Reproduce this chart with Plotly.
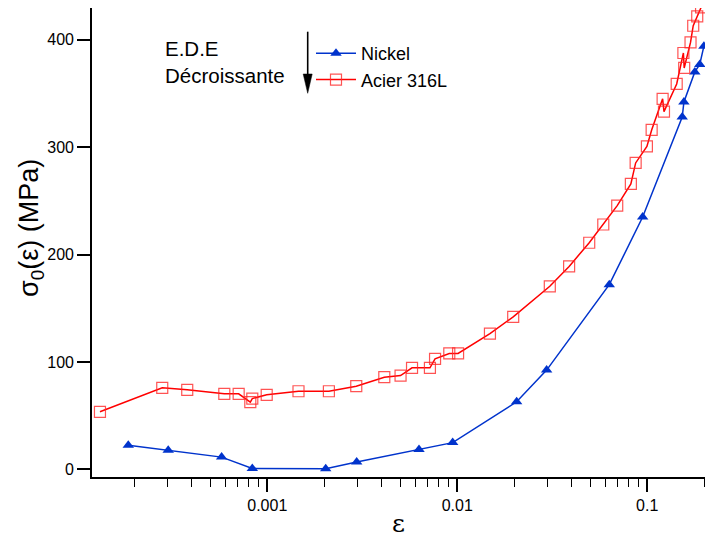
import plotly.graph_objects as go
import math

# ---- data ----
nickel_eps = [1.855e-4, 3.01e-4, 5.75e-4, 8.34e-4, 2.03e-3, 2.955e-3, 6.29e-3, 9.46e-3,
              0.02054, 0.02954, 0.0631, 0.0946, 0.1528, 0.156, 0.178, 0.189, 0.1987]
nickel_sigma = [22.5, 18, 11.5, 1, 0.7, 7, 18.5, 25,
                63, 92.5, 172, 235, 328, 342, 370, 377, 394]

acier_eps = [1.316e-4, 2.80e-4, 3.79e-4, 5.94e-4, 7.07e-4, 8.14e-4, 8.34e-4, 9.93e-4,
             1.46e-3, 2.11e-3, 2.94e-3, 4.13e-3, 5.03e-3, 5.78e-3, 7.18e-3, 7.64e-3,
             9.08e-3, 0.0101, 0.01486, 0.0197, 0.0307, 0.0388, 0.0495, 0.0587,
             0.0695, 0.082, 0.0869, 0.0996, 0.1055, 0.1205, 0.1225, 0.1429,
             0.155, 0.1565, 0.169, 0.1746, 0.1833, 0.192]
acier_sigma = [53.7, 76, 74.1, 70.4, 70.4, 62.6, 66, 69.5,
               72.8, 72.8, 77.5, 85.9, 87.4, 94.6, 94.6, 103,
               108, 108, 126.5, 142, 170.5, 189, 211, 228,
               245.6, 265.8, 285.3, 300.7, 316, 345, 333, 358.8,
               387.6, 373.7, 397.5, 413, 421.7, 430]

x_major = [0.001, 0.01, 0.1]
x_major_text = ["0.001", "0.01", "0.1"]
x_minor = [m * 10.0 ** e for e in (-4, -3, -2, -1) for m in range(2, 10)]
y_ticks = [0, 100, 200, 300, 400]

series_names = ["Nickel", "Acier 316L"]
annotation_text = "E.D.E<br>Décroissante"
y_title = "σ<sub>0</sub>(ε) (MPa)"
x_title = "ε"

BLUE = "#0033CC"
RED = "#FF0000"
FONT = "Liberation Sans, Arial, sans-serif"

W, H = 705, 538
ML, MR, MT, MB = 92, 0, 8, 61
PW, PH = W - ML - MR, H - MT - MB


def px(xp):
    return (xp - ML) / PW


def py(yp):
    return (H - MB - yp) / PH


fig = go.Figure()
fig.add_trace(go.Scatter(
    x=nickel_eps, y=nickel_sigma, name=series_names[0], mode="lines+markers",
    line=dict(color=BLUE, width=1.5),
    marker=dict(symbol="triangle-up", size=10, color=BLUE, line=dict(width=0)),
))
fig.add_trace(go.Scatter(
    x=acier_eps, y=acier_sigma, name=series_names[1], mode="lines+markers",
    line=dict(color=RED, width=1.5),
    marker=dict(symbol="square-open", size=11, color="rgba(255,40,40,0.8)",
                line=dict(width=1.2)),
))

fig.update_layout(
    width=W, height=H,
    margin=dict(l=ML, r=MR, t=MT, b=MB, pad=0),
    paper_bgcolor="white", plot_bgcolor="white",
    font=dict(family=FONT, size=16, color="black"),
    showlegend=True,
    legend=dict(x=px(311), y=py(35), xanchor="left", yanchor="top",
                bgcolor="rgba(0,0,0,0)", borderwidth=0,
                font=dict(family=FONT, size=18), itemwidth=40,
                tracegroupgap=0),
    xaxis=dict(
        type="log",
        range=[math.log10(1.195e-4), math.log10(0.2014)],
        showline=True, linecolor="black", linewidth=1.6,
        showgrid=False, zeroline=False,
        tickmode="array", tickvals=x_major, ticktext=x_major_text,
        ticks="outside", ticklen=13, tickwidth=1.6, tickcolor="black",
        tickfont=dict(family=FONT, size=16),
        minor=dict(tickmode="array", tickvals=x_minor, ticks="outside",
                   ticklen=8, tickwidth=1.4, tickcolor="black", showgrid=False),
        title=dict(text=x_title, font=dict(family="DejaVu Serif, serif", size=25),
                   standoff=7),
        mirror=False,
    ),
    yaxis=dict(
        range=[-7, 429.5],
        showline=True, linecolor="black", linewidth=1.6,
        showgrid=False, zeroline=False,
        tickmode="array", tickvals=y_ticks,
        ticks="outside", ticklen=13, tickwidth=1.6, tickcolor="black",
        tickfont=dict(family=FONT, size=16),
    ),
    annotations=[
        dict(text=annotation_text, x=px(163), y=py(62), xref="paper", yref="paper",
             xanchor="left", yanchor="middle", align="left", showarrow=False,
             font=dict(family=FONT, size=20.5)),
        dict(text=y_title, x=px(31), y=py(228), xref="paper",
             yref="paper", xanchor="center", yanchor="middle", textangle=-90,
             showarrow=False, font=dict(family=FONT, size=27)),
    ],
    shapes=[
        dict(type="line", xref="paper", yref="paper",
             x0=px(307.7), x1=px(307.7), y0=py(31.7), y1=py(78),
             line=dict(color="black", width=1.6)),
        dict(type="path", xref="paper", yref="paper",
             path=f"M{px(303.2)},{py(74)} L{px(312.2)},{py(74)} L{px(307.7)},{py(93.3)} Z",
             fillcolor="black", line=dict(color="black", width=0.5)),
    ],
)

fig.write_html("out.html")
